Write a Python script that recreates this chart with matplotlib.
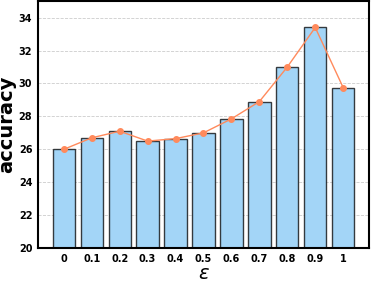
import numpy as np
import matplotlib
matplotlib.use("Agg")
import matplotlib.pyplot as plt

eps_labels = ['0', '0.1', '0.2', '0.3', '0.4', '0.5', '0.6', '0.7', '0.8', '0.9', '1']
accuracy = [26.0, 26.7, 27.1, 26.5, 26.65, 27.0, 27.85, 28.9, 31.0, 33.4, 29.75]

x = np.arange(len(eps_labels))

fig = plt.figure(figsize=(3.71, 2.81), dpi=100)
ax = fig.add_axes([0.102, 0.117, 0.893, 0.879])

ax.bar(x, accuracy, width=0.8, color='#a3d5f7', edgecolor=(0, 0, 0, 0.75),
       linewidth=1.0, zorder=2)
ax.plot(x, accuracy, '-o', color='#ff8a5c', ms=4, lw=1.0, zorder=3)

ax.set_ylim(20, 35)
ax.set_xlim(-0.93, 10.93)
ax.set_yticks([20, 22, 24, 26, 28, 30, 32, 34])
ax.set_xticks(x)
ax.set_xticklabels(eps_labels)
ax.yaxis.grid(True, linestyle='--', color='#cccccc', lw=0.6, zorder=0)
ax.set_axisbelow(True)

for lab in ax.get_xticklabels() + ax.get_yticklabels():
    lab.set_fontweight('bold')
    lab.set_fontsize(7)
ax.tick_params(length=0, pad=4)
for s in ax.spines.values():
    s.set_linewidth(1.5)

ax.set_xlabel(r'$\epsilon$', fontsize=14, labelpad=0)
ax.set_ylabel('accuracy', fontsize=14, fontweight='bold', labelpad=2)

fig.savefig('out.png', dpi=100)
